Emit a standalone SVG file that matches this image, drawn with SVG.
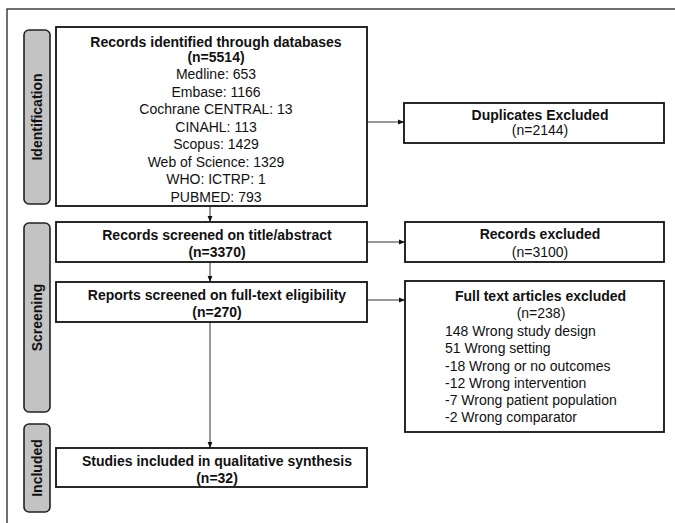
<svg xmlns="http://www.w3.org/2000/svg" width="675" height="523" viewBox="0 0 675 523">
<style>
.frame{fill:none;stroke:#222;stroke-width:1.3}
.box{fill:#fff;stroke:#111;stroke-width:1.8}
.side{fill:#c3c3c3;stroke:#222;stroke-width:1.6}
.t{font-family:"Liberation Sans",Arial,sans-serif;font-size:14px;fill:#111;text-anchor:middle}
.b{font-weight:bold}
.l{text-anchor:start}
.sl{font-family:"Liberation Sans",Arial,sans-serif;font-size:14px;font-weight:bold;fill:#111;text-anchor:middle}
.c{stroke:#333;stroke-width:1;fill:none;marker-end:url(#ah)}
</style>
<defs>
<marker id="ah" viewBox="0 0 10 10" refX="10" refY="5" markerWidth="6" markerHeight="6" markerUnits="userSpaceOnUse" orient="auto">
<path d="M0,1 L10,5 L0,9 z" fill="#111"/>
</marker>
</defs>
<rect class="frame" x="7" y="9" width="700" height="600"/>
<g id="side-identification">
<rect class="side" x="24" y="30" width="26" height="174" rx="5"/>
<text class="sl" transform="translate(42,117) rotate(-90)">Identification</text>
</g>
<g id="side-screening">
<rect class="side" x="24" y="223" width="26" height="189" rx="5"/>
<text class="sl" transform="translate(42,317.5) rotate(-90)">Screening</text>
</g>
<g id="side-included">
<rect class="side" x="24" y="424" width="26" height="88" rx="5"/>
<text class="sl" transform="translate(42,468) rotate(-90)">Included</text>
</g>
<g id="connectors">
<line class="c" x1="210" y1="206" x2="210" y2="222"/>
<line class="c" x1="210" y1="262" x2="210" y2="282"/>
<line class="c" x1="210" y1="322" x2="210" y2="448"/>
<line class="c" x1="367" y1="122" x2="404" y2="122"/>
<line class="c" x1="367" y1="242" x2="405" y2="242"/>
<line class="c" x1="367" y1="300" x2="405" y2="300"/>
</g>
<g id="records-identified">
<rect class="box" x="56" y="27" width="311" height="179"/>
<text class="t b" x="216" y="47">Records identified through databases</text>
<text class="t b" x="216" y="62">(n=5514)</text>
<text class="t" x="216" y="79">Medline: 653</text>
<text class="t" x="216" y="96.5">Embase: 1166</text>
<text class="t" x="216" y="114">Cochrane CENTRAL: 13</text>
<text class="t" x="216" y="131.5">CINAHL: 113</text>
<text class="t" x="216" y="149">Scopus: 1429</text>
<text class="t" x="216" y="166.5">Web of Science: 1329</text>
<text class="t" x="216" y="184">WHO: ICTRP: 1</text>
<text class="t" x="216" y="201.5">PUBMED: 793</text>
</g>
<g id="records-screened">
<rect class="box" x="56" y="222" width="311" height="40"/>
<text class="t b" x="217" y="240">Records screened on title/abstract</text>
<text class="t b" x="217" y="257">(n=3370)</text>
</g>
<g id="reports-screened">
<rect class="box" x="56" y="282" width="311" height="40"/>
<text class="t b" x="217" y="300">Reports screened on full-text eligibility</text>
<text class="t b" x="217" y="317">(n=270)</text>
</g>
<g id="studies-included">
<rect class="box" x="56" y="448" width="311" height="39"/>
<text class="t b" x="217" y="466">Studies included in qualitative synthesis</text>
<text class="t b" x="217" y="483">(n=32)</text>
</g>
<g id="duplicates">
<rect class="box" x="404" y="103" width="260" height="40"/>
<text class="t b" x="540" y="120">Duplicates Excluded</text>
<text class="t" x="540" y="135">(n=2144)</text>
</g>
<g id="records-excluded">
<rect class="box" x="405" y="222" width="259" height="40"/>
<text class="t b" x="540" y="239">Records excluded</text>
<text class="t" x="540" y="257">(n=3100)</text>
</g>
<g id="fulltext-excluded">
<rect class="box" x="405" y="281" width="259" height="151"/>
<text class="t b" x="540.5" y="301">Full text articles excluded</text>
<text class="t" x="541" y="318">(n=238)</text>
<text class="t l" x="445" y="336">148 Wrong study design</text>
<text class="t l" x="445" y="353">51 Wrong setting</text>
<text class="t l" x="445" y="371">-18 Wrong or no outcomes</text>
<text class="t l" x="445" y="388">-12 Wrong intervention</text>
<text class="t l" x="445" y="405">-7 Wrong patient population</text>
<text class="t l" x="445" y="422">-2 Wrong comparator</text>
</g>
</svg>
